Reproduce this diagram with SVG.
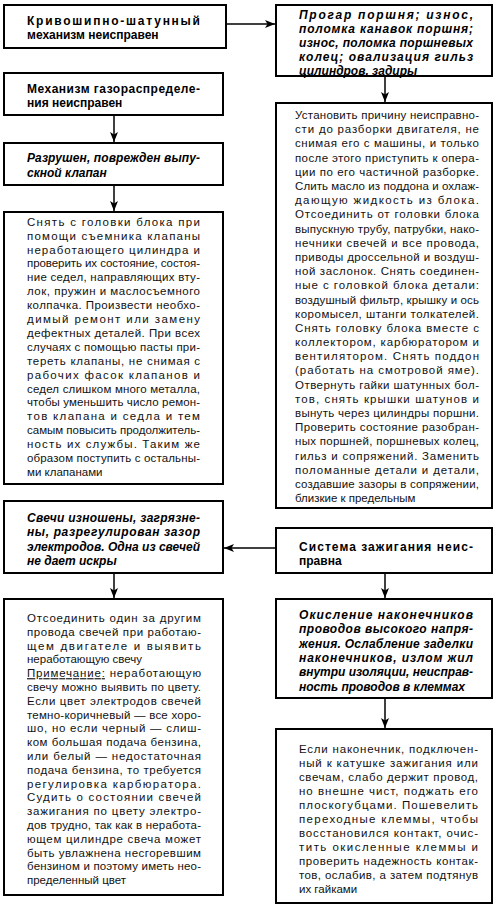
<svg xmlns="http://www.w3.org/2000/svg" width="500" height="909" viewBox="0 0 500 909">
<style>
.box{fill:#fff;stroke:#000;stroke-width:2}
.t{font-family:"Liberation Sans",Arial,sans-serif;font-size:11.5px;fill:#111}
.h{font-family:"Liberation Sans",Arial,sans-serif;font-size:12px;font-weight:bold;fill:#000}
.hi{font-family:"Liberation Sans",Arial,sans-serif;font-size:12px;font-weight:bold;font-style:italic;fill:#000}
.c{fill:none;stroke:#000;stroke-width:1.5}
</style>
<defs>
<marker id="ah" markerUnits="userSpaceOnUse" markerWidth="11" markerHeight="8" refX="10" refY="4" orient="auto">
<path d="M0,0 L10,4 L0,8 L2.5,4 z" fill="#000"/>
</marker>
</defs>
<rect width="500" height="909" fill="#fff"/>
<g id="connectors">
<path class="c" d="M226,24 H275" marker-end="url(#ah)"/>
<path class="c" d="M385,76 V102" marker-end="url(#ah)"/>
<path class="c" d="M114,115 V142" marker-end="url(#ah)"/>
<path class="c" d="M114,185 V211" marker-end="url(#ah)"/>
<path class="c" d="M276,548 H224" marker-end="url(#ah)"/>
<path class="c" d="M114,573 V598" marker-end="url(#ah)"/>
<path class="c" d="M385,573 V598" marker-end="url(#ah)"/>
<path class="c" d="M385,698 V728" marker-end="url(#ah)"/>
</g>
<g id="n1">
<rect class="box" x="4" y="5" width="222" height="43"/>
<text class="h" x="27" y="25" textLength="173" lengthAdjust="spacing">Кривошипно-шатунный</text>
<text class="h" x="27" y="39">механизм неисправен</text>
</g>
<g id="n2">
<rect class="box" x="276" y="5" width="216" height="71"/>
<text class="hi" x="299" y="19" textLength="174" lengthAdjust="spacing">Прогар поршня; износ,</text>
<text class="hi" x="299" y="33" textLength="174" lengthAdjust="spacing">поломка канавок поршня;</text>
<text class="hi" x="299" y="47" textLength="174" lengthAdjust="spacing">износ, поломка поршневых</text>
<text class="hi" x="299" y="61" textLength="174" lengthAdjust="spacing">колец; овализация гильз</text>
<text class="hi" x="299" y="75">цилиндров, задиры</text>
</g>
<g id="n3">
<rect class="box" x="4" y="73" width="219" height="42"/>
<text class="h" x="27" y="93" textLength="173" lengthAdjust="spacing">Механизм газораспределе-</text>
<text class="h" x="27" y="107">ния неисправен</text>
</g>
<g id="n4">
<rect class="box" x="4" y="143" width="219" height="42"/>
<text class="hi" x="27" y="162" textLength="173" lengthAdjust="spacing">Разрушен, поврежден выпу-</text>
<text class="hi" x="27" y="176.5">скной клапан</text>
</g>
<g id="n5">
<rect class="box" x="4" y="212" width="219" height="272"/>
<text class="t" x="27" y="225.7" textLength="173" lengthAdjust="spacing">Снять с головки блока при</text>
<text class="t" x="27" y="239.6" textLength="173" lengthAdjust="spacing">помощи съемника клапаны</text>
<text class="t" x="27" y="253.5" textLength="173" lengthAdjust="spacing">неработающего цилиндра и</text>
<text class="t" x="27" y="267.4" textLength="173" lengthAdjust="spacing">проверить их состояние, состоя-</text>
<text class="t" x="27" y="281.3" textLength="173" lengthAdjust="spacing">ние седел, направляющих вту-</text>
<text class="t" x="27" y="295.2" textLength="173" lengthAdjust="spacing">лок, пружин и маслосъемного</text>
<text class="t" x="27" y="309.1" textLength="173" lengthAdjust="spacing">колпачка. Произвести необхо-</text>
<text class="t" x="27" y="323" textLength="173" lengthAdjust="spacing">димый ремонт или замену</text>
<text class="t" x="27" y="336.9" textLength="173" lengthAdjust="spacing">дефектных деталей. При всех</text>
<text class="t" x="27" y="350.8" textLength="173" lengthAdjust="spacing">случаях с помощью пасты при-</text>
<text class="t" x="27" y="364.7" textLength="173" lengthAdjust="spacing">тереть клапаны, не снимая с</text>
<text class="t" x="27" y="378.6" textLength="173" lengthAdjust="spacing">рабочих фасок клапанов и</text>
<text class="t" x="27" y="392.5" textLength="173" lengthAdjust="spacing">седел слишком много металла,</text>
<text class="t" x="27" y="406.4" textLength="173" lengthAdjust="spacing">чтобы уменьшить число ремон-</text>
<text class="t" x="27" y="420.3" textLength="173" lengthAdjust="spacing">тов клапана и седла и тем</text>
<text class="t" x="27" y="434.2" textLength="173" lengthAdjust="spacing">самым повысить продолжитель-</text>
<text class="t" x="27" y="448.1" textLength="173" lengthAdjust="spacing">ность их службы. Таким же</text>
<text class="t" x="27" y="462" textLength="173" lengthAdjust="spacing">образом поступить с остальны-</text>
<text class="t" x="27" y="475.9">ми клапанами</text>
</g>
<g id="n6">
<rect class="box" x="4" y="501" width="219" height="72"/>
<text class="hi" x="27" y="522" textLength="173" lengthAdjust="spacing">Свечи изношены, загрязне-</text>
<text class="hi" x="27" y="536.3" textLength="173" lengthAdjust="spacing">ны, разрегулирован зазор</text>
<text class="hi" x="27" y="550.6" textLength="173" lengthAdjust="spacing">электродов. Одна из свечей</text>
<text class="hi" x="27" y="564.9">не дает искры</text>
</g>
<g id="n7">
<rect class="box" x="4" y="599" width="219" height="296"/>
<text class="t" x="27" y="622" textLength="174" lengthAdjust="spacing">Отсоединить один за другим</text>
<text class="t" x="27" y="635.8" textLength="174" lengthAdjust="spacing">провода свечей при работаю-</text>
<text class="t" x="27" y="649.6" textLength="174" lengthAdjust="spacing">щем двигателе и выявить</text>
<text class="t" x="27" y="663.4">неработающую свечу</text>
<text class="t" x="27" y="677.2" textLength="174" lengthAdjust="spacing"><tspan text-decoration="underline">Примечание:</tspan> неработающую</text>
<text class="t" x="27" y="691" textLength="174" lengthAdjust="spacing">свечу можно выявить по цвету.</text>
<text class="t" x="27" y="704.8" textLength="174" lengthAdjust="spacing">Если цвет электродов свечей</text>
<text class="t" x="27" y="718.6" textLength="174" lengthAdjust="spacing">темно-коричневый — все хоро-</text>
<text class="t" x="27" y="732.4" textLength="174" lengthAdjust="spacing">шо, но если черный — слиш-</text>
<text class="t" x="27" y="746.2" textLength="174" lengthAdjust="spacing">ком большая подача бензина,</text>
<text class="t" x="27" y="760" textLength="174" lengthAdjust="spacing">или белый — недостаточная</text>
<text class="t" x="27" y="773.8" textLength="174" lengthAdjust="spacing">подача бензина, то требуется</text>
<text class="t" x="27" y="787.6" textLength="174" lengthAdjust="spacing">регулировка карбюратора.</text>
<text class="t" x="27" y="801.4" textLength="174" lengthAdjust="spacing">Судить о состоянии свечей</text>
<text class="t" x="27" y="815.2" textLength="174" lengthAdjust="spacing">зажигания по цвету электро-</text>
<text class="t" x="27" y="829" textLength="174" lengthAdjust="spacing">дов трудно, так как в неработа-</text>
<text class="t" x="27" y="842.8" textLength="174" lengthAdjust="spacing">ющем цилиндре свеча может</text>
<text class="t" x="27" y="856.6" textLength="174" lengthAdjust="spacing">быть увлажнена несгоревшим</text>
<text class="t" x="27" y="870.4" textLength="174" lengthAdjust="spacing">бензином и поэтому иметь нео-</text>
<text class="t" x="27" y="884.2">пределенный цвет</text>
</g>
<g id="n8">
<rect class="box" x="276" y="103" width="216" height="405"/>
<text class="t" x="295" y="119" textLength="184" lengthAdjust="spacing">Установить причину неисправно-</text>
<text class="t" x="295" y="133.2" textLength="184" lengthAdjust="spacing">сти до разборки двигателя, не</text>
<text class="t" x="295" y="147.4" textLength="184" lengthAdjust="spacing">снимая его с машины, и только</text>
<text class="t" x="295" y="161.6" textLength="184" lengthAdjust="spacing">после этого приступить к опера-</text>
<text class="t" x="295" y="175.8" textLength="184" lengthAdjust="spacing">ции по его частичной разборке.</text>
<text class="t" x="295" y="190" textLength="184" lengthAdjust="spacing">Слить масло из поддона и охлаж-</text>
<text class="t" x="295" y="204.1" textLength="184" lengthAdjust="spacing">дающую жидкость из блока.</text>
<text class="t" x="295" y="218.3" textLength="184" lengthAdjust="spacing">Отсоединить от головки блока</text>
<text class="t" x="295" y="232.5" textLength="184" lengthAdjust="spacing">выпускную трубу, патрубки, нако-</text>
<text class="t" x="295" y="246.7" textLength="184" lengthAdjust="spacing">нечники свечей и все провода,</text>
<text class="t" x="295" y="260.9" textLength="184" lengthAdjust="spacing">приводы дроссельной и воздуш-</text>
<text class="t" x="295" y="275.1" textLength="184" lengthAdjust="spacing">ной заслонок. Снять соединен-</text>
<text class="t" x="295" y="289.3" textLength="184" lengthAdjust="spacing">ные с головкой блока детали:</text>
<text class="t" x="295" y="303.5" textLength="184" lengthAdjust="spacing">воздушный фильтр, крышку и ось</text>
<text class="t" x="295" y="317.7" textLength="184" lengthAdjust="spacing">коромысел, штанги толкателей.</text>
<text class="t" x="295" y="331.9" textLength="184" lengthAdjust="spacing">Снять головку блока вместе с</text>
<text class="t" x="295" y="346" textLength="184" lengthAdjust="spacing">коллектором, карбюратором и</text>
<text class="t" x="295" y="360.2" textLength="184" lengthAdjust="spacing">вентилятором. Снять поддон</text>
<text class="t" x="295" y="374.4" textLength="184" lengthAdjust="spacing">(работать на смотровой яме).</text>
<text class="t" x="295" y="388.6" textLength="184" lengthAdjust="spacing">Отвернуть гайки шатунных бол-</text>
<text class="t" x="295" y="402.8" textLength="184" lengthAdjust="spacing">тов, снять крышки шатунов и</text>
<text class="t" x="295" y="417" textLength="184" lengthAdjust="spacing">вынуть через цилиндры поршни.</text>
<text class="t" x="295" y="431.2" textLength="184" lengthAdjust="spacing">Проверить состояние разобран-</text>
<text class="t" x="295" y="445.4" textLength="184" lengthAdjust="spacing">ных поршней, поршневых колец,</text>
<text class="t" x="295" y="459.6" textLength="184" lengthAdjust="spacing">гильз и сопряжений. Заменить</text>
<text class="t" x="295" y="473.8" textLength="184" lengthAdjust="spacing">поломанные детали и детали,</text>
<text class="t" x="295" y="487.9" textLength="184" lengthAdjust="spacing">создавшие зазоры в сопряжении,</text>
<text class="t" x="295" y="502.1">близкие к предельным</text>
</g>
<g id="n9">
<rect class="box" x="276" y="528" width="216" height="45"/>
<text class="h" x="299" y="551" textLength="174" lengthAdjust="spacing">Система зажигания неис-</text>
<text class="h" x="299" y="564.5">правна</text>
</g>
<g id="n10">
<rect class="box" x="276" y="599" width="216" height="99"/>
<text class="hi" x="299" y="619" textLength="174" lengthAdjust="spacing">Окисление наконечников</text>
<text class="hi" x="299" y="633.3" textLength="174" lengthAdjust="spacing">проводов высокого напря-</text>
<text class="hi" x="299" y="647.6" textLength="174" lengthAdjust="spacing">жения. Ослабление заделки</text>
<text class="hi" x="299" y="661.9" textLength="174" lengthAdjust="spacing">наконечников, излом жил</text>
<text class="hi" x="299" y="676.2" textLength="174" lengthAdjust="spacing">внутри изоляции, неисправ-</text>
<text class="hi" x="299" y="690.5">ность проводов в клеммах</text>
</g>
<g id="n11">
<rect class="box" x="276" y="729" width="216" height="174"/>
<text class="t" x="299" y="753" textLength="179" lengthAdjust="spacing">Если наконечник, подключен-</text>
<text class="t" x="299" y="767" textLength="179" lengthAdjust="spacing">ный к катушке зажигания или</text>
<text class="t" x="299" y="781" textLength="179" lengthAdjust="spacing">свечам, слабо держит провод,</text>
<text class="t" x="299" y="795" textLength="179" lengthAdjust="spacing">но внешне чист, поджать его</text>
<text class="t" x="299" y="809" textLength="179" lengthAdjust="spacing">плоскогубцами. Пошевелить</text>
<text class="t" x="299" y="823" textLength="179" lengthAdjust="spacing">переходные клеммы, чтобы</text>
<text class="t" x="299" y="837" textLength="179" lengthAdjust="spacing">восстановился контакт, очис-</text>
<text class="t" x="299" y="851" textLength="179" lengthAdjust="spacing">тить окисленные клеммы и</text>
<text class="t" x="299" y="865" textLength="179" lengthAdjust="spacing">проверить надежность контак-</text>
<text class="t" x="299" y="879" textLength="179" lengthAdjust="spacing">тов, ослабив, а затем подтянув</text>
<text class="t" x="299" y="893">их гайками</text>
</g>
</svg>
